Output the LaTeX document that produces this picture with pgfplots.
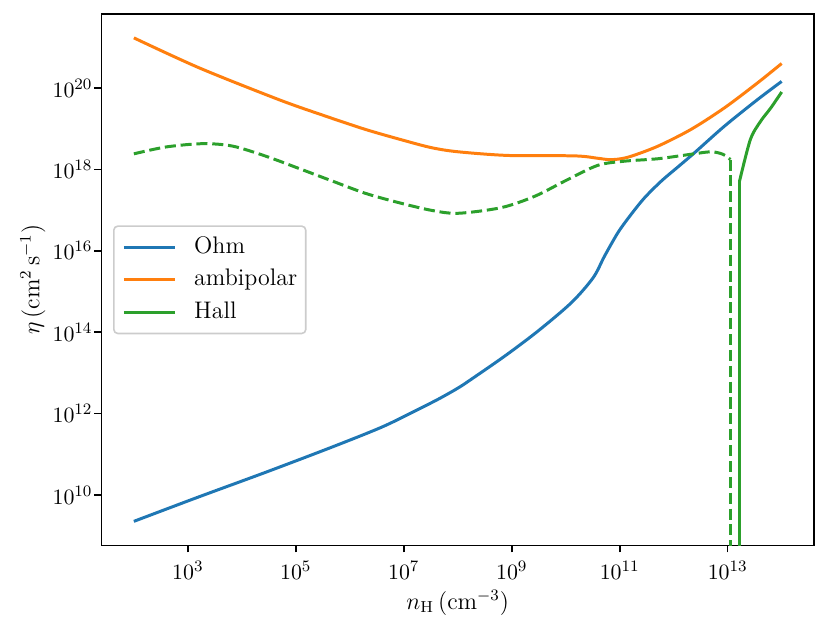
\documentclass[border=0pt]{standalone}
\usepackage{pgfplots}
\pgfplotsset{compat=1.18}
\definecolor{tabblue}{HTML}{1F77B4}
\definecolor{taborange}{HTML}{FF7F0E}
\definecolor{tabgreen}{HTML}{2CA02C}
\begin{document}
\begin{tikzpicture}
\useasboundingbox (-50.85pt,-41.65pt) rectangle (365.65pt,273.35pt);
\begin{axis}[
  scale only axis, width=357.15pt, height=266.2pt,
  xmode=log, ymode=log,
  xmin=25.12, xmax=3.981e14,
  ymin=5.754e8, ymax=6.457e21,
  xtick={1e3,1e5,1e7,1e9,1e11,1e13},
  ytick={1e10,1e12,1e14,1e16,1e18,1e20},
  xminorticks=false, yminorticks=false,
  xtick pos=bottom, ytick pos=left,
  tick align=outside, major tick length=3.5pt,
  tick style={line width=0.8pt, black},
  axis line style={line width=0.8pt},
  ticklabel style={font=\fontsize{11}{13}\selectfont},
  xticklabel style={yshift=-1pt},
  yticklabel style={xshift=2.5pt},
  xlabel={$n_\mathrm{H}\,(\mathrm{cm^{-3}})$},
  ylabel={$\eta\,(\mathrm{cm^2\,s^{-1}})$},
  label style={font=\fontsize{12}{14.4}\selectfont},
  xlabel style={at={(axis description cs:0.5,-0.108)}, anchor=center},
  ylabel style={at={(axis description cs:-0.0962,0.5)}, anchor=center},
  legend image code/.code={\draw[#1] (0pt,0pt) -- (25.5pt,0pt);},
  legend cell align=left,
  legend style={at={(axis description cs:0,0.5)}, xshift=5.8pt, anchor=west,
    draw=black!20, line width=0.8pt, rounded corners=2pt, fill=white, fill opacity=0.8, text opacity=1,
    font=\fontsize{12}{14.4}\selectfont,
    inner xsep=4.3pt, inner ysep=5pt, row sep=5.4pt, column sep=9pt,
    nodes={inner sep=0pt, text height=8.5pt, text depth=2.5pt}},
]
\addplot[tabblue, line width=1.5pt, smooth, tension=0.5] coordinates {
(1e2,2.24e9) (1.585e3,8.91e9) (2.818e4,3.63e10) (4.786e5,1.514e11)
(3.981e6,4.677e11) (1.660e7,1.175e12) (4.467e7,2.291e12) (1.023e8,4.266e12)
(1.820e8,7.079e12) (7.586e8,2.630e13) (3.090e9,1.072e14) (1.288e10,5.370e14)
(3.236e10,2.188e15) (5.248e10,7.413e15) (9.333e10,2.818e16) (1.622e11,7.762e16)
(2.884e11,1.995e17) (5.888e11,5.129e17) (1.202e12,1.148e18) (2.399e12,2.512e18)
(8.710e12,1.148e19) (3.548e13,5.129e19) (1e14,1.445e20)
};
\addlegendentry{Ohm}
\addplot[taborange, line width=1.5pt, smooth, tension=0.5] coordinates {
(1e2,1.698e21) (1.641e3,3.090e20) (4.898e4,5.129e19) (3.162e5,2.138e19)
(1.950e6,9.550e18) (1e7,5.129e18) (3.311e7,3.388e18) (1.023e8,2.692e18)
(8.710e8,2.188e18) (1.479e10,2.138e18) (3.981e10,1.862e18) (6.026e10,1.738e18)
(9.333e10,1.778e18) (1.622e11,2.089e18) (5.129e11,3.715e18) (2.089e12,9.550e18)
(8.710e12,3.236e19) (3.548e13,1.318e20) (1e14,3.981e20)
};
\addlegendentry{ambipolar}
\addplot[tabgreen, line width=1.5pt, smooth, tension=0.5] coordinates {
(1.660e13,5.129e17) (2.630e13,5.370e18) (4.074e13,1.514e19)
(6.310e13,3.236e19) (1e14,7.943e19)
};
\addlegendentry{Hall}
\addplot[tabgreen, line width=1.5pt, forget plot] coordinates {
(1.660e13,1e3) (1.660e13,5.129e17)
};
\addplot[tabgreen, line width=1.5pt, dash pattern=on 5.55pt off 2.4pt, smooth, tension=0.5, forget plot] coordinates {
(1e2,2.399e18) (3.981e2,3.548e18) (1.905e3,4.266e18) (6.761e3,3.715e18)
(2.818e4,2.089e18) (1.148e5,1.047e18) (4.786e5,5.129e17) (1.950e6,2.570e17)
(8.128e6,1.514e17) (3.311e7,9.772e16) (1.023e8,8.318e16) (6.457e8,1.148e17)
(2.692e9,2.188e17) (1.096e10,5.623e17) (3.981e10,1.259e18) (1.230e11,1.585e18)
(5.129e11,1.820e18) (2.089e12,2.344e18) (4.898e12,2.692e18) (8.128e12,2.344e18)
(1.122e13,1.738e18)
};
\addplot[tabgreen, line width=1.5pt, dash pattern=on 5.55pt off 2.4pt, forget plot] coordinates {
(1.122e13,1.738e18) (1.122e13,1e3)
};
\end{axis}
\end{tikzpicture}
\end{document}
